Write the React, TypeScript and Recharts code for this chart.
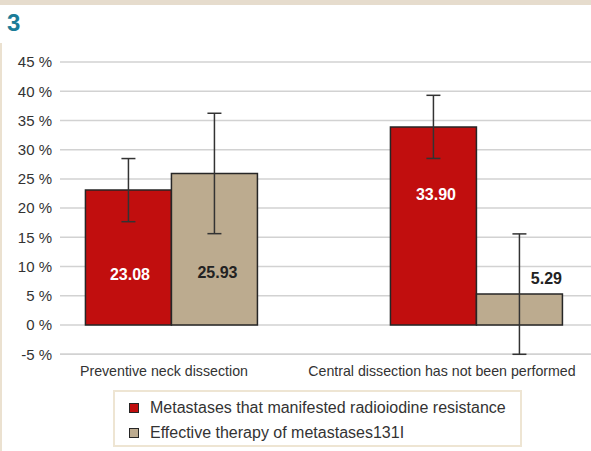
import React from 'react';
import { BarChart, Bar, XAxis, YAxis, CartesianGrid, ErrorBar, LabelList, Legend } from 'recharts';

const categories = ['Preventive neck dissection', 'Central dissection has not been performed'];
const categoryPos = [0, 1];
const resistance = [23.08, 33.9];
const resistanceErr = [5.4, 5.4];
const effective = [25.93, 5.29];
const effectiveErr = [10.3, 10.3];
const resistanceLabelAt = [8.6, 22.4];
const effectiveLabelAt = [8.9, 7.9];
const yTicks = [-5, 0, 5, 10, 15, 20, 25, 30, 35, 40, 45];
const seriesNames = ['Metastases that manifested radioiodine resistance', 'Effective therapy of metastases131I'];

const RED = '#c10e0e';
const TAN = '#bcab8f';
const EDGE = '#262626';
const tickDx = [-8, -35];
const resistanceLabelDx = [1.5, 2.5];
const effectiveLabelDx = [3, 27];

const data = categories.map((c, i) => ({
  name: c,
  pos: categoryPos[i],
  resistance: resistance[i],
  resistanceErr: resistanceErr[i],
  effective: effective[i],
  effectiveErr: effectiveErr[i],
}));

const makeLabel = (labelArr: number[], dxArr: number[], color: string) => (props: any) => {
  const { x, y, width, height, value, index } = props;
  const v = Number(value);
  const bottom = Number(y) + Number(height);
  const per = Number(height) / v;
  const cy = bottom - labelArr[index] * per;
  return (
    <text
      x={Number(x) + Number(width) / 2 + dxArr[index]}
      y={cy}
      textAnchor="middle"
      dominantBaseline="central"
      fill={color}
      fontSize={16}
      fontWeight="bold"
      fontFamily="Liberation Sans, Arial, sans-serif"
    >
      {v.toFixed(2)}
    </text>
  );
};

const CatTick = (props: any) => {
  const { x, y, payload } = props;
  const i = categoryPos.indexOf(payload.value);
  return (
    <text
      x={Number(x) + (tickDx[i] ?? 0)}
      y={y}
      dy="0.71em"
      textAnchor="middle"
      fill="#333"
      fontSize={14.2}
      fontFamily="Liberation Sans, Arial, sans-serif"
    >
      {categories[i] ?? ''}
    </text>
  );
};

const LegendBox = () => (
  <div
    style={{
      boxSizing: 'border-box',
      width: 409,
      height: 57,
      border: '2px solid #eee5d3',
      paddingLeft: 14,
      paddingTop: 3,
      fontFamily: 'Liberation Sans, Arial, sans-serif',
      fontSize: 16,
      color: '#333',
    }}
  >
    {seriesNames.map((n, i) => (
      <div key={n} style={{ display: 'flex', alignItems: 'center', height: 25 }}>
        <span
          style={{
            display: 'inline-block',
            boxSizing: 'border-box',
            width: 10,
            height: 10,
            background: i === 0 ? RED : TAN,
            border: `1.5px solid ${EDGE}`,
            marginRight: 11,
          }}
        />
        <span>{n}</span>
      </div>
    ))}
  </div>
);

export default function App() {
  return (
    <div style={{ position: 'absolute', left: 0, top: 0, width: 591, height: 451, background: '#fff', overflow: 'hidden' }}>
      <div style={{ position: 'absolute', left: 0, top: 0, width: 591, height: 5, background: '#e6dccd' }} />
      <div style={{ position: 'absolute', left: 0, top: 43, width: 2, height: 408, background: '#ebe1d0' }} />
      <div
        style={{
          position: 'absolute',
          left: 7,
          top: 10,
          fontFamily: 'Liberation Sans, Arial, sans-serif',
          fontWeight: 'bold',
          fontSize: 24,
          color: '#1b7c98',
          lineHeight: '26px',
        }}
      >
        3
      </div>
      <div style={{ position: 'absolute', left: 0, top: 0 }}>
        <BarChart
          width={591}
          height={451}
          data={data}
          margin={{ top: 62, right: 0, bottom: 66.7, left: 0 }}
          barGap={0}
          barSize={86}
        >
          <CartesianGrid horizontal vertical={false} stroke="#d2d2d2" strokeWidth={1.5} />
          <XAxis
            dataKey="pos"
            type="number"
            domain={[-0.367, 1.374]}
            ticks={categoryPos}
            allowDataOverflow
            axisLine={false}
            tickLine={false}
            tickMargin={6}
            height={30}
            tick={<CatTick />}
            interval={0}
          />
          <YAxis
            type="number"
            domain={[-5, 45]}
            ticks={yTicks}
            width={60}
            axisLine={false}
            tickLine={false}
            tick={{ fill: '#333', fontSize: 15, fontFamily: 'Liberation Sans, Arial, sans-serif' }}
            tickFormatter={(v: number) => `${v} %`}
            interval={0}
          />
          <Legend
            layout="vertical"
            align="center"
            verticalAlign="middle"
            content={<LegendBox />}
            wrapperStyle={{ position: 'absolute', left: 113, top: 390, width: 409, height: 57 }}
          />
          <Bar dataKey="resistance" name={seriesNames[0]} fill={RED} stroke={EDGE} strokeWidth={1.5} isAnimationActive={false}>
            <ErrorBar dataKey="resistanceErr" direction="y" width={7} stroke="#333" strokeWidth={1.5} />
            <LabelList dataKey="resistance" content={makeLabel(resistanceLabelAt, resistanceLabelDx, '#fff')} />
          </Bar>
          <Bar dataKey="effective" name={seriesNames[1]} fill={TAN} stroke={EDGE} strokeWidth={1.5} isAnimationActive={false}>
            <ErrorBar dataKey="effectiveErr" direction="y" width={7} stroke="#333" strokeWidth={1.5} />
            <LabelList dataKey="effective" content={makeLabel(effectiveLabelAt, effectiveLabelDx, '#222')} />
          </Bar>
        </BarChart>
      </div>
    </div>
  );
}
